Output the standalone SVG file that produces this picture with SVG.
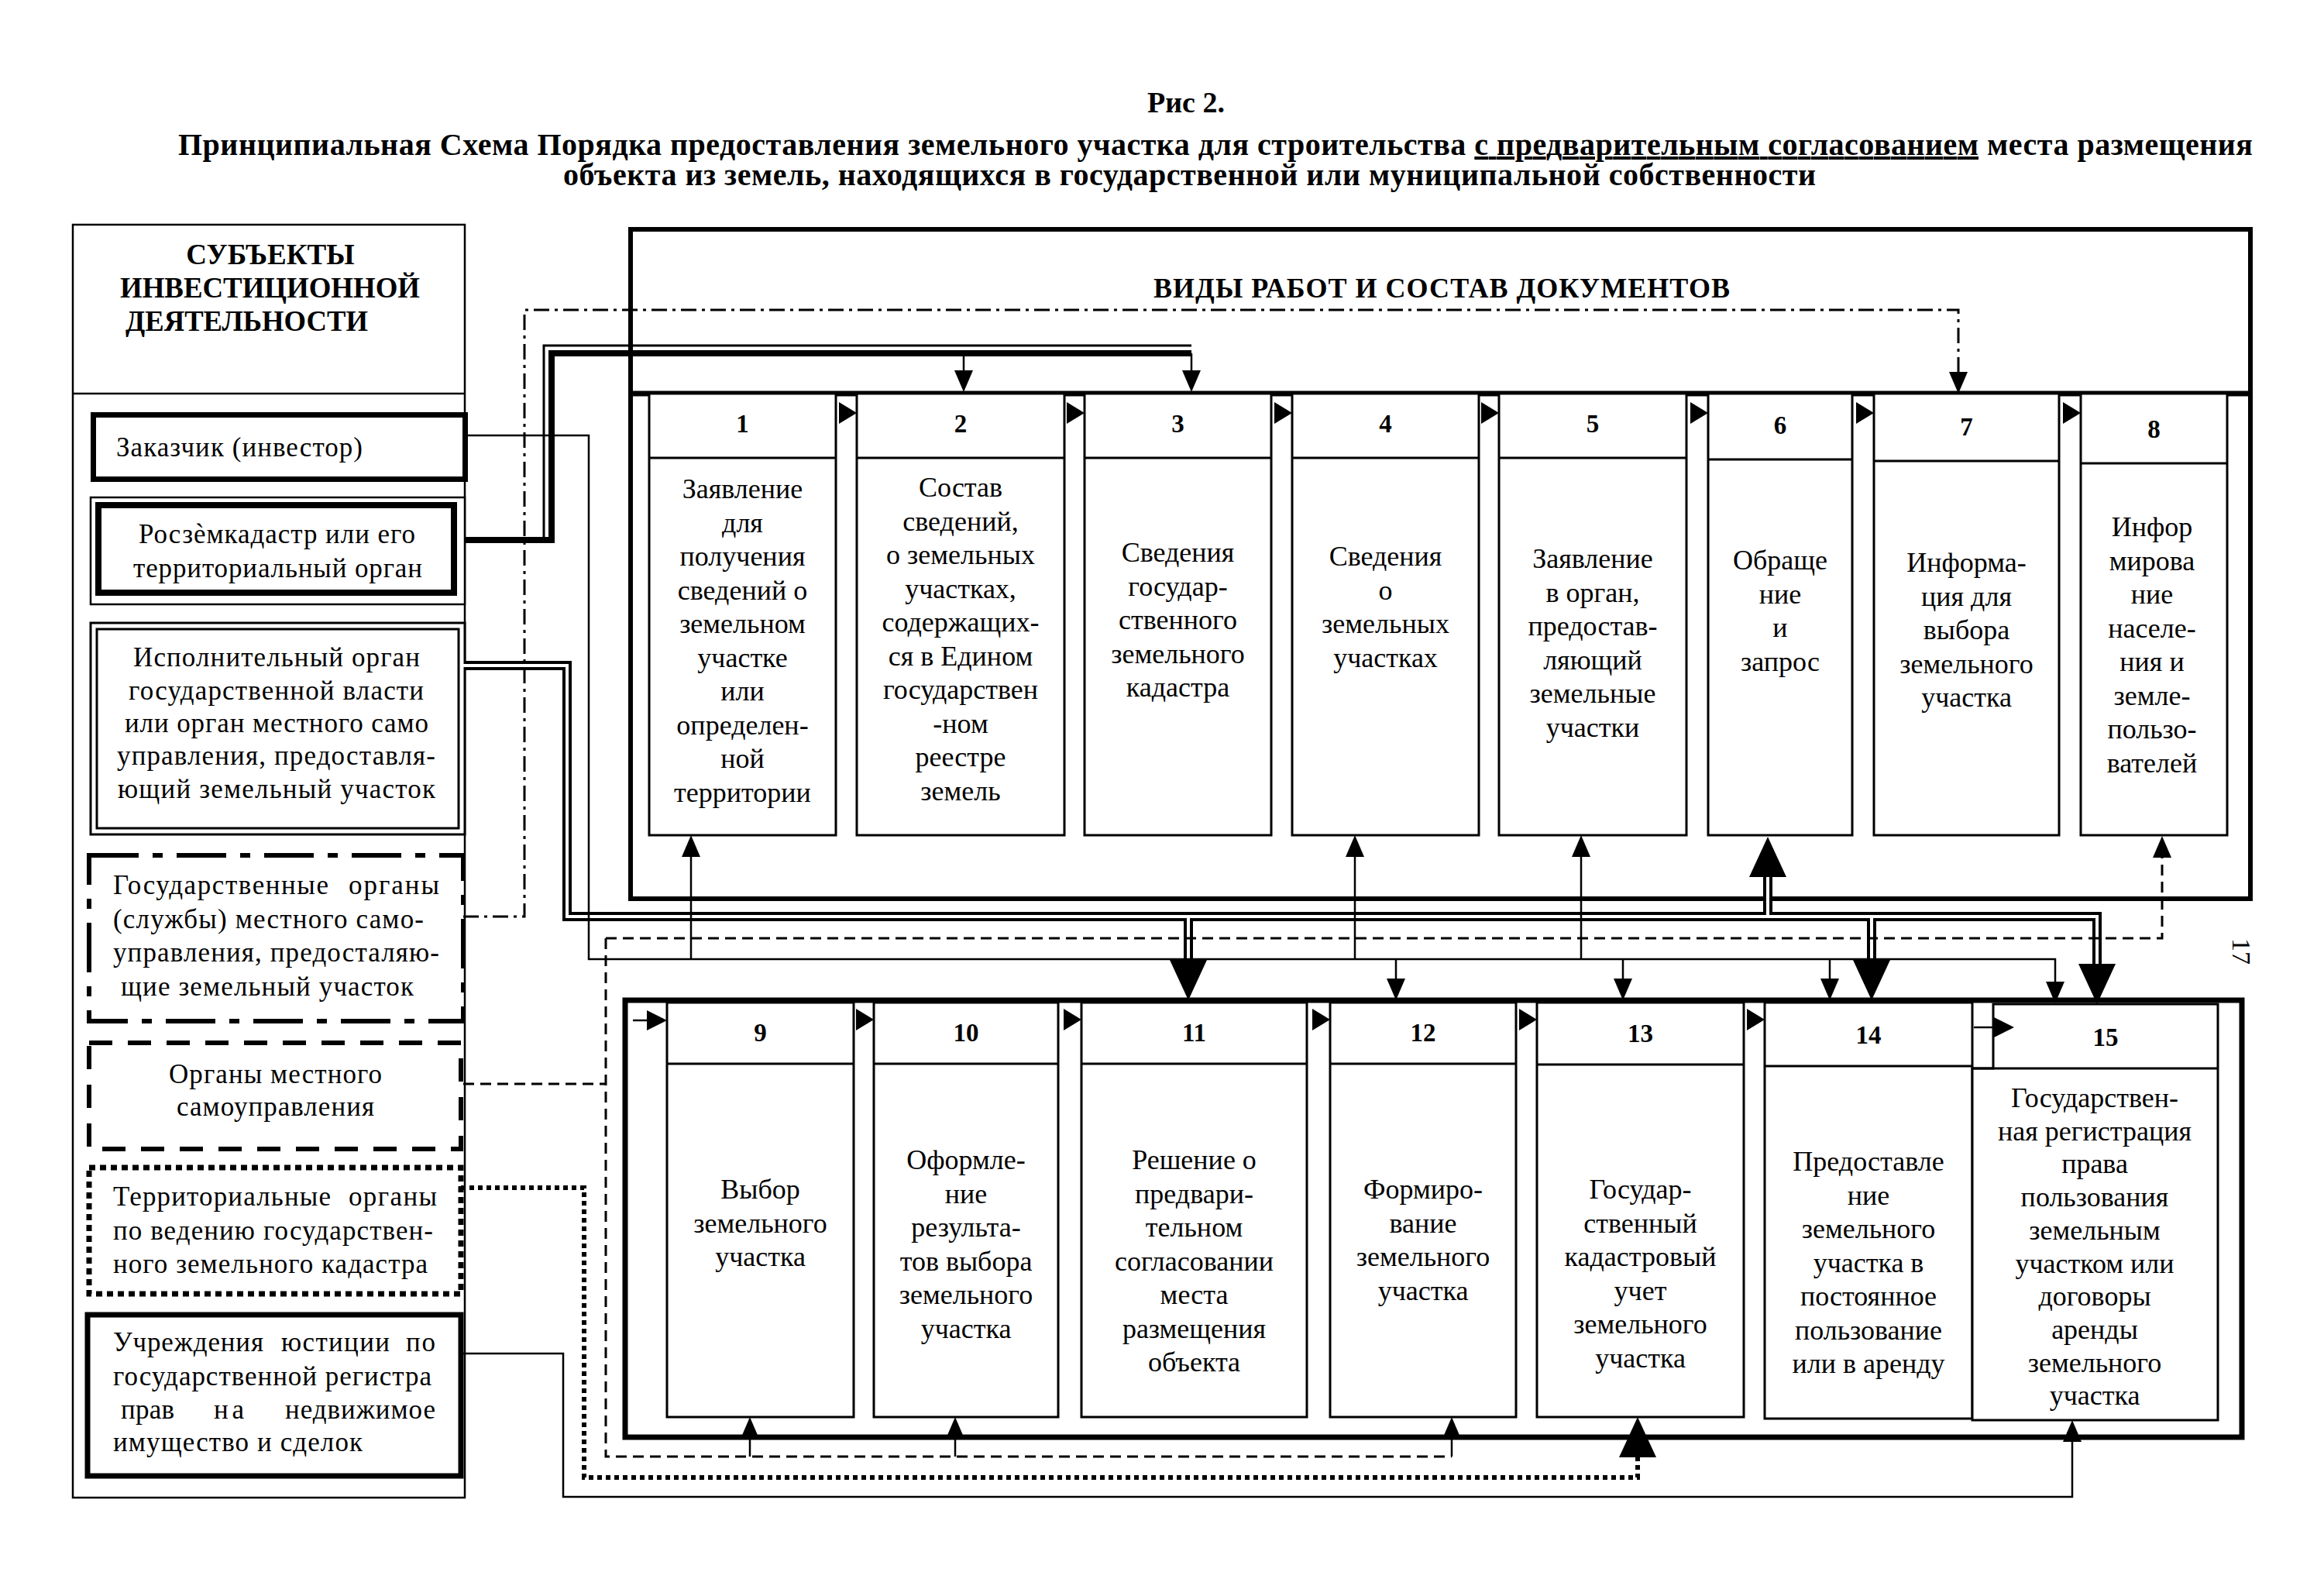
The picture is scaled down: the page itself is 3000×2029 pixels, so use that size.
<svg xmlns="http://www.w3.org/2000/svg" width="3000" height="2029" viewBox="0 0 3000 2029">
<style>
text{font-family:"Liberation Serif","Times New Roman",serif;fill:#000}
.b{font-weight:bold}
.box{fill:#fff;stroke:#000;stroke-width:3}
.hd{stroke:#000;stroke-width:3}
.num{font-weight:bold;font-size:33px;text-anchor:middle}
.bt{font-size:36px;text-anchor:middle}
.lt{font-size:35px}
.ln{fill:none;stroke:#000;stroke-width:2.5}
.dd{fill:none;stroke:#000;stroke-width:3;stroke-dasharray:20 7 4 7}
.ds{fill:none;stroke:#000;stroke-width:3;stroke-dasharray:14 8}
.dt{fill:none;stroke:#000;stroke-width:6;stroke-dasharray:6 5}
.dblo{fill:none;stroke:#000;stroke-width:12}
.dbli{fill:none;stroke:#fff;stroke-width:4}
</style>
<defs>
<path id="aD" d="M-12,-28 L0,0 L12,-28 Z"/>
<path id="aU" d="M-12,28 L0,0 L12,28 Z"/>
<path id="aR" d="M-26,-13 L0,0 L-26,13 Z"/>
<path id="bD" d="M-24,-52 L0,0 L24,-52 Z"/>
<path id="bU" d="M-24,52 L0,0 L24,52 Z"/>
<path id="tri" d="M-23,-14 L0,0 L-23,14 Z"/>
</defs>
<rect width="3000" height="2029" fill="#fff"/>

<g id="title">
<text class="b" x="1531" y="145" font-size="38" text-anchor="middle">Рис 2.</text>
<text class="b" x="230" y="200" font-size="40" textLength="2678" lengthAdjust="spacing">Принципиальная Схема Порядка предоставления земельного участка для строительства <tspan style="text-decoration:underline">с предварительным согласованием</tspan> места размещения</text>
<text class="b" x="727" y="239" font-size="40" textLength="1617" lengthAdjust="spacing">объекта из земель, находящихся в государственной или муниципальной собственности</text>
</g>

<g id="subjects">
<rect x="94" y="290" width="506" height="1643" fill="none" stroke="#000" stroke-width="2.5"/>
<line x1="94" y1="508" x2="600" y2="508" stroke="#000" stroke-width="2.5"/>
<text class="b" x="349" y="341" font-size="37" text-anchor="middle">СУБЪЕКТЫ</text>
<text class="b" x="155" y="384" font-size="37" textLength="387" lengthAdjust="spacingAndGlyphs">ИНВЕСТИЦИОННОЙ</text>
<text class="b" x="162" y="427" font-size="37" textLength="313" lengthAdjust="spacingAndGlyphs">ДЕЯТЕЛЬНОСТИ</text>
</g>

<g id="s1">
<rect x="120.5" y="535.5" width="480" height="83" fill="#fff" stroke="#000" stroke-width="7"/>
<text class="lt" x="150" y="589" textLength="318" lengthAdjust="spacing">Заказчик (инвестор)</text>
</g>
<g id="s2">
<rect x="117" y="642" width="483" height="138" fill="#fff" stroke="#000" stroke-width="2.5"/>
<rect x="127" y="652" width="459" height="113" fill="none" stroke="#000" stroke-width="8"/>
<text class="lt" x="179" y="701" textLength="357" lengthAdjust="spacing">Росзѐмкадастр или его</text>
<text class="lt" x="172" y="745" textLength="373" lengthAdjust="spacing">территориальный орган</text>
</g>
<g id="s3">
<rect x="117" y="804" width="483" height="273" fill="#fff" stroke="#000" stroke-width="3"/>
<rect x="125" y="812" width="467" height="257" fill="none" stroke="#000" stroke-width="3"/>
<text class="lt" x="172" y="860" textLength="370" lengthAdjust="spacing">Исполнительный орган</text>
<text class="lt" x="166" y="903" textLength="381" lengthAdjust="spacing">государственной власти</text>
<text class="lt" x="161" y="945" textLength="392" lengthAdjust="spacing">или орган местного само</text>
<text class="lt" x="151" y="987" textLength="411" lengthAdjust="spacing">управления, предоставля-</text>
<text class="lt" x="152" y="1030" textLength="410" lengthAdjust="spacing">ющий земельный участок</text>
</g>
<g id="s4">
<rect x="115" y="1104" width="483" height="214" fill="#fff" stroke="#000" stroke-width="6" stroke-dasharray="64 18 13 18"/>
<text class="lt" x="146" y="1154" textLength="278" lengthAdjust="spacing">Государственные</text>
<text class="lt" x="450" y="1154" textLength="117" lengthAdjust="spacing">органы</text>
<text class="lt" x="146" y="1198" textLength="401" lengthAdjust="spacing">(службы) местного само-</text>
<text class="lt" x="146" y="1241" textLength="421" lengthAdjust="spacing">управления, предосталяю-</text>
<text class="lt" x="156" y="1285" textLength="378" lengthAdjust="spacing">щие земельный участок</text>
</g>
<g id="s5">
<rect x="115" y="1346" width="480" height="137" fill="#fff" stroke="#000" stroke-width="6" stroke-dasharray="30 20"/>
<text class="lt" x="218" y="1398" textLength="275" lengthAdjust="spacing">Органы местного</text>
<text class="lt" x="228" y="1440" textLength="255" lengthAdjust="spacing">самоуправления</text>
</g>
<g id="s6">
<rect x="115" y="1507" width="480" height="163" fill="#fff" stroke="#000" stroke-width="7" stroke-dasharray="8 6"/>
<text class="lt" x="146" y="1556" textLength="281" lengthAdjust="spacing">Территориальные</text>
<text class="lt" x="450" y="1556" textLength="114" lengthAdjust="spacing">органы</text>
<text class="lt" x="146" y="1600" textLength="413" lengthAdjust="spacing">по ведению государствен-</text>
<text class="lt" x="146" y="1643" textLength="406" lengthAdjust="spacing">ного земельного кадастра</text>
</g>
<g id="s7">
<rect x="113" y="1697" width="482" height="208" fill="#fff" stroke="#000" stroke-width="7"/>
<text class="lt" x="146" y="1744" textLength="194" lengthAdjust="spacing">Учреждения</text>
<text class="lt" x="363" y="1744" textLength="140" lengthAdjust="spacing">юстиции</text>
<text class="lt" x="524" y="1744" textLength="38" lengthAdjust="spacing">по</text>
<text class="lt" x="146" y="1788" textLength="411" lengthAdjust="spacing">государственной регистра</text>
<text class="lt" x="156" y="1831" textLength="69" lengthAdjust="spacing">прав</text>
<text class="lt" x="276" y="1831" textLength="39" lengthAdjust="spacing">на</text>
<text class="lt" x="368" y="1831" textLength="194" lengthAdjust="spacing">недвижимое</text>
<text class="lt" x="146" y="1873" textLength="322" lengthAdjust="spacing">имущество и сделок</text>
</g>

<g id="frame-top">
<rect x="814" y="296" width="2091" height="864" fill="none" stroke="#000" stroke-width="6"/>
<line x1="814" y1="508" x2="2905" y2="508" stroke="#000" stroke-width="7"/>
<text class="b" x="1489" y="384" font-size="36" textLength="744" lengthAdjust="spacing">ВИДЫ РАБОТ И СОСТАВ ДОКУМЕНТОВ</text>
</g>
<g id="frame-bottom">
<rect x="807" y="1291" width="2087" height="564" fill="none" stroke="#000" stroke-width="7"/>
</g>

<g id="n1"><rect class="box" x="838" y="508" width="241" height="570"/><line class="hd" x1="838" y1="591" x2="1079" y2="591"/><text class="num" x="958.5" y="558">1</text>
<text class="bt" y="643"><tspan x="958.5">Заявление</tspan><tspan x="958.5" dy="43.5">для</tspan><tspan x="958.5" dy="43.5">получения</tspan><tspan x="958.5" dy="43.5">сведений о</tspan><tspan x="958.5" dy="43.5">земельном</tspan><tspan x="958.5" dy="43.5">участке</tspan><tspan x="958.5" dy="43.5">или</tspan><tspan x="958.5" dy="43.5">определен-</tspan><tspan x="958.5" dy="43.5">ной</tspan><tspan x="958.5" dy="43.5">территории</tspan></text></g>
<g id="n2"><rect class="box" x="1106" y="508" width="268" height="570"/><line class="hd" x1="1106" y1="591" x2="1374" y2="591"/><text class="num" x="1240" y="558">2</text>
<text class="bt" y="641"><tspan x="1240">Состав</tspan><tspan x="1240" dy="43.5">сведений,</tspan><tspan x="1240" dy="43.5">о земельных</tspan><tspan x="1240" dy="43.5">участках,</tspan><tspan x="1240" dy="43.5">содержащих-</tspan><tspan x="1240" dy="43.5">ся в Едином</tspan><tspan x="1240" dy="43.5">государствен</tspan><tspan x="1240" dy="43.5">-ном</tspan><tspan x="1240" dy="43.5">реестре</tspan><tspan x="1240" dy="43.5">земель</tspan></text></g>
<g id="n3"><rect class="box" x="1400" y="508" width="241" height="570"/><line class="hd" x1="1400" y1="591" x2="1641" y2="591"/><text class="num" x="1520.5" y="558">3</text>
<text class="bt" y="725"><tspan x="1520.5">Сведения</tspan><tspan x="1520.5" dy="43.5">государ-</tspan><tspan x="1520.5" dy="43.5">ственного</tspan><tspan x="1520.5" dy="43.5">земельного</tspan><tspan x="1520.5" dy="43.5">кадастра</tspan></text></g>
<g id="n4"><rect class="box" x="1668" y="508" width="241" height="570"/><line class="hd" x1="1668" y1="591" x2="1909" y2="591"/><text class="num" x="1788.5" y="558">4</text>
<text class="bt" y="730"><tspan x="1788.5">Сведения</tspan><tspan x="1788.5" dy="43.5">о</tspan><tspan x="1788.5" dy="43.5">земельных</tspan><tspan x="1788.5" dy="43.5">участках</tspan></text></g>
<g id="n5"><rect class="box" x="1935" y="508" width="242" height="570"/><line class="hd" x1="1935" y1="591" x2="2177" y2="591"/><text class="num" x="2056" y="558">5</text>
<text class="bt" y="733"><tspan x="2056">Заявление</tspan><tspan x="2056" dy="43.5">в орган,</tspan><tspan x="2056" dy="43.5">предостав-</tspan><tspan x="2056" dy="43.5">ляющий</tspan><tspan x="2056" dy="43.5">земельные</tspan><tspan x="2056" dy="43.5">участки</tspan></text></g>
<g id="n6"><rect class="box" x="2205" y="508" width="186" height="570"/><line class="hd" x1="2205" y1="593" x2="2391" y2="593"/><text class="num" x="2298" y="560">6</text>
<text class="bt" y="735"><tspan x="2298">Обраще</tspan><tspan x="2298" dy="43.5">ние</tspan><tspan x="2298" dy="43.5">и</tspan><tspan x="2298" dy="43.5">запрос</tspan></text></g>
<g id="n7"><rect class="box" x="2419" y="508" width="239" height="570"/><line class="hd" x1="2419" y1="595" x2="2658" y2="595"/><text class="num" x="2538.5" y="562">7</text>
<text class="bt" y="738"><tspan x="2538.5">Информа-</tspan><tspan x="2538.5" dy="43.5">ция  для</tspan><tspan x="2538.5" dy="43.5">выбора</tspan><tspan x="2538.5" dy="43.5">земельного</tspan><tspan x="2538.5" dy="43.5">участка</tspan></text></g>
<g id="n8"><rect class="box" x="2686" y="508" width="189" height="570"/><line class="hd" x1="2686" y1="598" x2="2875" y2="598"/><text class="num" x="2780.5" y="565">8</text>
<text class="bt" y="692"><tspan x="2778">Инфор</tspan><tspan x="2778" dy="43.5">мирова</tspan><tspan x="2778" dy="43.5">ние</tspan><tspan x="2778" dy="43.5">населе-</tspan><tspan x="2778" dy="43.5">ния и</tspan><tspan x="2778" dy="43.5">земле-</tspan><tspan x="2778" dy="43.5">пользо-</tspan><tspan x="2778" dy="43.5">вателей</tspan></text></g>

<g id="n9"><rect class="box" x="861" y="1294" width="241" height="535"/><line class="hd" x1="861" y1="1373" x2="1102" y2="1373"/><text class="num" x="981.5" y="1344">9</text>
<text class="bt" y="1547"><tspan x="981.5">Выбор</tspan><tspan x="981.5" dy="43.5">земельного</tspan><tspan x="981.5" dy="43.5">участка</tspan></text></g>
<g id="n10"><rect class="box" x="1128" y="1294" width="238" height="535"/><line class="hd" x1="1128" y1="1373" x2="1366" y2="1373"/><text class="num" x="1247" y="1344">10</text>
<text class="bt" y="1509"><tspan x="1247">Оформле-</tspan><tspan x="1247" dy="43.5">ние</tspan><tspan x="1247" dy="43.5">результа-</tspan><tspan x="1247" dy="43.5">тов выбора</tspan><tspan x="1247" dy="43.5">земельного</tspan><tspan x="1247" dy="43.5">участка</tspan></text></g>
<g id="n11"><rect class="box" x="1396" y="1294" width="291" height="535"/><line class="hd" x1="1396" y1="1373" x2="1687" y2="1373"/><text class="num" x="1541.5" y="1344">11</text>
<text class="bt" y="1509"><tspan x="1541.5">Решение о</tspan><tspan x="1541.5" dy="43.5">предвари-</tspan><tspan x="1541.5" dy="43.5">тельном</tspan><tspan x="1541.5" dy="43.5">согласовании</tspan><tspan x="1541.5" dy="43.5">места</tspan><tspan x="1541.5" dy="43.5">размещения</tspan><tspan x="1541.5" dy="43.5">объекта</tspan></text></g>
<g id="n12"><rect class="box" x="1717" y="1294" width="240" height="535"/><line class="hd" x1="1717" y1="1373" x2="1957" y2="1373"/><text class="num" x="1837" y="1344">12</text>
<text class="bt" y="1547"><tspan x="1837">Формиро-</tspan><tspan x="1837" dy="43.5">вание</tspan><tspan x="1837" dy="43.5">земельного</tspan><tspan x="1837" dy="43.5">участка</tspan></text></g>
<g id="n13"><rect class="box" x="1984" y="1294" width="267" height="535"/><line class="hd" x1="1984" y1="1374" x2="2251" y2="1374"/><text class="num" x="2117.5" y="1345">13</text>
<text class="bt" y="1547"><tspan x="2117.5">Государ-</tspan><tspan x="2117.5" dy="43.5">ственный</tspan><tspan x="2117.5" dy="43.5">кадастровый</tspan><tspan x="2117.5" dy="43.5">учет</tspan><tspan x="2117.5" dy="43.5">земельного</tspan><tspan x="2117.5" dy="43.5">участка</tspan></text></g>
<g id="n14"><rect class="box" x="2278" y="1294" width="268" height="537"/><line class="hd" x1="2278" y1="1376" x2="2546" y2="1376"/><text class="num" x="2412" y="1347">14</text>
<text class="bt" y="1511"><tspan x="2412">Предоставле</tspan><tspan x="2412" dy="43.5">ние</tspan><tspan x="2412" dy="43.5">земельного</tspan><tspan x="2412" dy="43.5">участка в</tspan><tspan x="2412" dy="43.5">постоянное</tspan><tspan x="2412" dy="43.5">пользование</tspan><tspan x="2412" dy="43.5">или в аренду</tspan></text></g>
<g id="n15"><path class="box" d="M2573,1296 H2863 V1833 H2546 V1379 H2573 Z"/><line class="hd" x1="2546" y1="1379" x2="2863" y2="1379"/><text class="num" x="2718" y="1350">15</text>
<text class="bt" y="1429"><tspan x="2704">Государствен-</tspan><tspan x="2704" dy="42.7">ная регистрация</tspan><tspan x="2704" dy="42.7">права</tspan><tspan x="2704" dy="42.7">пользования</tspan><tspan x="2704" dy="42.7">земельным</tspan><tspan x="2704" dy="42.7">участком или</tspan><tspan x="2704" dy="42.7">договоры</tspan><tspan x="2704" dy="42.7">аренды</tspan><tspan x="2704" dy="42.7">земельного</tspan><tspan x="2704" dy="42.7">участка</tspan></text></g>

<g id="connectors">
<use href="#tri" x="1106" y="533"/><use href="#tri" x="1400" y="533"/><use href="#tri" x="1668" y="533"/><use href="#tri" x="1935" y="533"/><use href="#tri" x="2205" y="533"/><use href="#tri" x="2419" y="533"/><use href="#tri" x="2686" y="533"/>
<use href="#tri" x="1128" y="1316"/><use href="#tri" x="1396" y="1316"/><use href="#tri" x="1717" y="1316"/><use href="#tri" x="1984" y="1316"/><use href="#tri" x="2278" y="1316"/>
<path class="ln" d="M2548,1326 H2576"/><use href="#aR" x="2600" y="1326"/>
<path class="ln" d="M817,1317 H837"/><use href="#aR" x="861" y="1317"/>

<path class="dblo" d="M600,859 H732 V1183 H2707 V1245 M1534,1183 V1242 M2282,1183 V1130 M2416,1183 V1242"/>
<path class="dbli" d="M598,859 H732 V1183 H2707 V1246 M1534,1183 V1243 M2282,1183 V1129 M2416,1183 V1243"/>
<use href="#bD" x="1534" y="1291"/><use href="#bU" x="2282" y="1080"/><use href="#bD" x="2416" y="1291"/><use href="#bD" x="2707" y="1296"/>

<path d="M600,697 H712 V456 H1538" fill="none" stroke="#000" stroke-width="8"/>
<path d="M702,693 V446 H1538" fill="none" stroke="#000" stroke-width="3"/>
<path class="ln" d="M1244,456 V480 M1538,456 V480"/>
<use href="#aD" x="1244" y="506"/><use href="#aD" x="1538" y="506"/>

<path class="ln" d="M603,562 H760 V1238 H2653 V1268 M892,1238 V1104 M1749,1238 V1104 M2041,1238 V1104 M1802,1238 V1265 M2095,1238 V1265 M2362,1238 V1265"/>
<use href="#aU" x="892" y="1078"/><use href="#aU" x="1749" y="1078"/><use href="#aU" x="2041" y="1078"/>
<use href="#aD" x="1802" y="1291"/><use href="#aD" x="2095" y="1291"/><use href="#aD" x="2362" y="1291"/><use href="#aD" x="2653" y="1295"/>

<path class="dd" d="M598,1183 H677 V400 H2528 V482"/>
<use href="#aD" x="2528" y="508"/>

<path class="ds" d="M598,1399 H782 M782,1211 V1880 H1874 M782,1211 H2791 V1107"/>
<use href="#aU" x="2791" y="1079"/>
<path class="ln" d="M968,1880 V1856 M1233,1880 V1856 M1874,1880 V1856"/>
<use href="#aU" x="968" y="1829"/><use href="#aU" x="1233" y="1829"/><use href="#aU" x="1874" y="1829"/>

<path class="dt" d="M595,1533 H754 V1907 H2114 V1880"/>
<use href="#bU" x="2114" y="1829"/>

<path class="ln" d="M595,1747 H727 V1932 H2675 V1860"/>
<use href="#aU" x="2675" y="1833"/>
</g>

<text x="0" y="0" font-size="34" text-anchor="middle" transform="translate(2882,1228) rotate(90)">17</text>
</svg>
